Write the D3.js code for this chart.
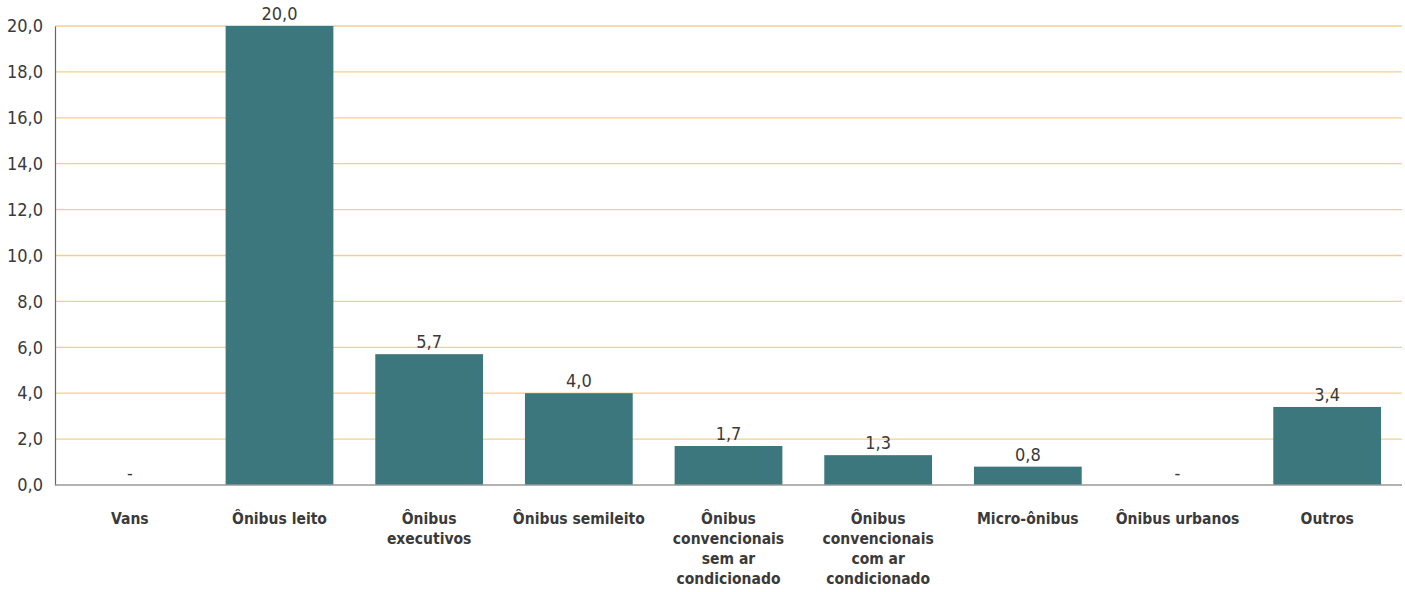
<!DOCTYPE html>
<html><head><meta charset="utf-8">
<script src="https://cdn.jsdelivr.net/npm/d3@7"></script>
<style>
body{margin:0;background:#fff;}
svg text{font-family:"Liberation Sans Narrow","DejaVu Sans Condensed","Roboto",sans-serif;fill:#3a3a3a;}
</style></head><body>
<svg id="c" width="1405" height="592"></svg>
<script>
const categories = [["Vans"],["Ônibus leito"],["Ônibus","executivos"],["Ônibus semileito"],["Ônibus","convencionais","sem ar","condicionado"],["Ônibus","convencionais","com ar","condicionado"],["Micro-ônibus"],["Ônibus urbanos"],["Outros"]];
const values = [0, 20.0, 5.7, 4.0, 1.7, 1.3, 0.8, 0, 3.4];
const valueLabels = ["-","20,0","5,7","4,0","1,7","1,3","0,8","-","3,4"];
const yTicks = [0,2,4,6,8,10,12,14,16,18,20];

const svg = d3.select("#c");
const m = {left:55, right:1402, top:26, bottom:485};
const x = d3.scaleBand().domain(d3.range(categories.length)).range([m.left,m.right]).paddingInner(0.28).paddingOuter(0.14);
const y = d3.scaleLinear().domain([0,20]).range([m.bottom,m.top]);
const fmt = d => d.toFixed(1).replace(".",",");

// gridlines
svg.append("g").selectAll("line").data(yTicks.filter(d=>d>0)).join("line")
  .attr("x1",m.left).attr("x2",m.right).attr("y1",d=>y(d)).attr("y2",d=>y(d))
  .attr("stroke","#f6d08a").attr("stroke-width",1.3);

// y axis
const ya = svg.append("g").attr("transform",`translate(${m.left},0)`).call(d3.axisLeft(y).tickValues(yTicks).tickFormat(fmt).tickSize(0).tickPadding(12));
ya.select(".domain").attr("stroke","#666").attr("stroke-width",1.2);
ya.selectAll("text").style("font-size","18px").attr("fill","#3a3a3a");

// bars
svg.append("g").selectAll("rect").data(values).join("rect")
  .attr("x",(d,i)=>x(i)).attr("width",x.bandwidth())
  .attr("y",d=>y(d)).attr("height",d=>y(0)-y(d)).attr("fill","#3b777d");

// x axis line
svg.append("line").attr("x1",m.left).attr("x2",m.right).attr("y1",y(0)).attr("y2",y(0)).attr("stroke","#999").attr("stroke-width",1.5);

// value labels
svg.append("g").selectAll("text").data(values).join("text")
  .attr("x",(d,i)=>x(i)+x.bandwidth()/2).attr("y",d=>y(d)-6)
  .attr("text-anchor","middle").style("font-size","18px")
  .text((d,i)=>valueLabels[i]);

// category labels
const cl = svg.append("g").selectAll("text").data(categories).join("text")
  .attr("x",(d,i)=>x(i)+x.bandwidth()/2).attr("y",524)
  .attr("text-anchor","middle").style("font-size","15.5px").style("font-weight","bold").attr("fill","#3a3a3a");
cl.selectAll("tspan").data((d,i)=>d.map(s=>({s,i}))).join("tspan")
  .attr("x",d=>x(d.i)+x.bandwidth()/2).attr("dy",(d,j)=>j===0?0:20).text(d=>d.s);
</script></body></html>
